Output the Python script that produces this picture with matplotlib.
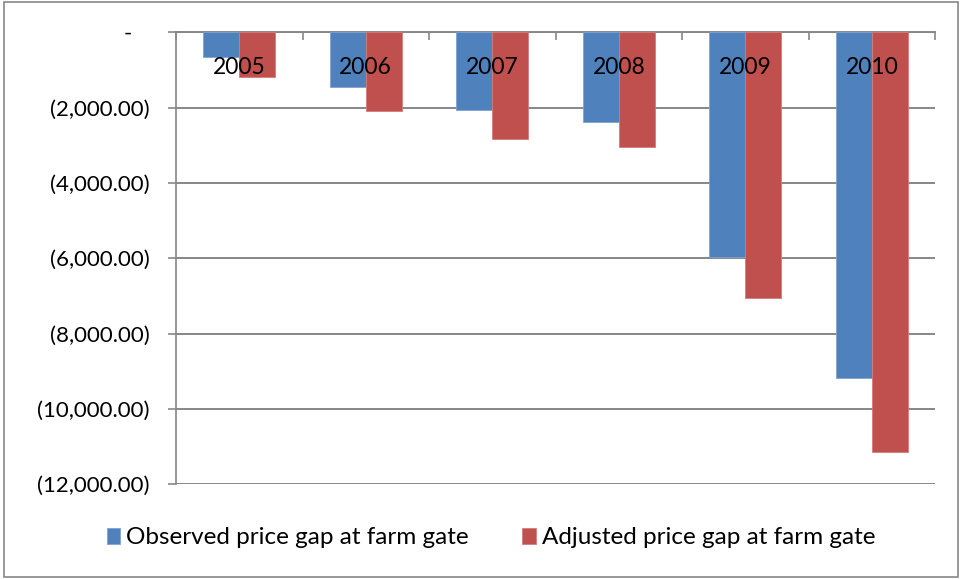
import matplotlib
matplotlib.use("Agg")
import matplotlib.pyplot as plt
from matplotlib.patches import Rectangle
from matplotlib.ticker import FuncFormatter
import numpy as np

years = ["2005", "2006", "2007", "2008", "2009", "2010"]
observed = [-650, -1440, -2055, -2370, -5965, -9180]
adjusted = [-1175, -2080, -2845, -3050, -7050, -11130]
series_names = ["Observed price gap at farm gate", "Adjusted price gap at farm gate"]

plt.rcParams['font.family'] = ['Lato', 'DejaVu Sans']

fig = plt.figure(figsize=(9.63, 5.79), dpi=100)
ax = fig.add_axes([0.1828, 0.1636, 0.971 - 0.1828, 0.9442 - 0.1636])

grey = "#878787"
x = np.arange(len(years))
w = 0.2857
b1 = ax.bar(x - w/2, observed, w, color="#4F81BD", edgecolor="#7fa3d0", linewidth=0.6, label=series_names[0], zorder=3)
b2 = ax.bar(x + w/2, adjusted, w, color="#C0504D", edgecolor="#d47c79", linewidth=0.6, label=series_names[1], zorder=3)

ax.set_xlim(-0.5, len(years) - 0.5)
ax.set_ylim(-12000, 0)
ax.set_yticks(np.arange(-12000, 1, 2000))

def fmt(v, pos):
    if v == 0:
        return "-   "
    return "({:,.2f})".format(abs(v))

ax.yaxis.set_major_formatter(FuncFormatter(fmt))
ax.tick_params(axis='y', direction='out', length=6, width=1.2, color=grey, labelsize=16, pad=13)

# category axis sits on the zero line at the top
ax.xaxis.tick_top()
ax.set_xticks(np.arange(-0.5, len(years), 1.0))
ax.set_xticklabels([])
ax.tick_params(axis='x', direction='in', length=6, width=1.2, color=grey)
for i, yr in enumerate(years):
    ax.annotate(yr, (i, 0), xytext=(0, -25.5), textcoords='offset points',
                ha='center', va='center', fontsize=16.5, zorder=5)

ax.yaxis.grid(True, color=grey, linewidth=1.4, zorder=0)
ax.set_axisbelow(True)
for s in ["right", "bottom"]:
    ax.spines[s].set_visible(False)
ax.spines["left"].set_color(grey)
ax.spines["left"].set_linewidth(1.2)
ax.spines["top"].set_color(grey)
ax.spines["top"].set_linewidth(1.4)

fig.legend(handles=[b1, b2], loc='center', bbox_to_anchor=(0.51, 0.071), ncol=2,
           frameon=False, fontsize=17.5, handlelength=0.55, handleheight=0.6,
           handletextpad=0.25, columnspacing=2.2)

fig.patches.append(Rectangle((4/963, 2/579), 954/963, 575/579, transform=fig.transFigure,
                             fill=False, edgecolor=grey, linewidth=1.2))

fig.savefig("out.png", dpi=100)
